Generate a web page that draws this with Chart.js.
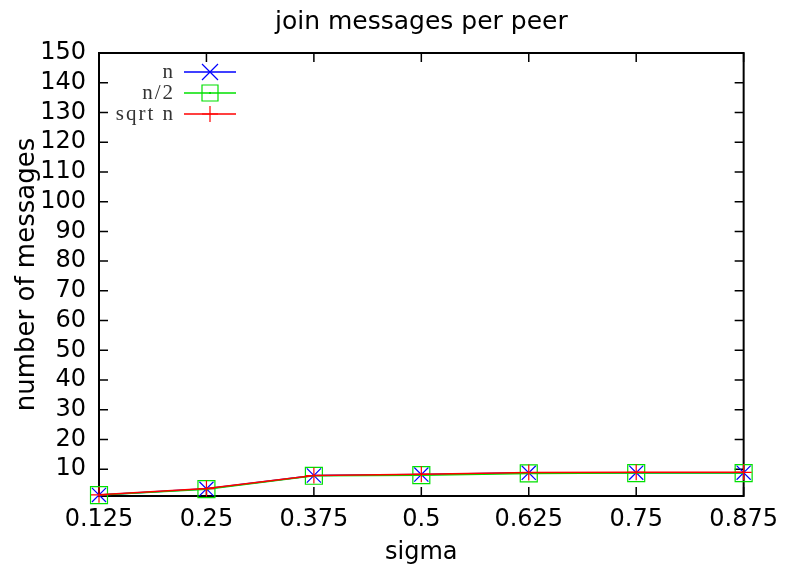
<!DOCTYPE html>
<html>
<head>
<meta charset="utf-8">
<script src="https://cdn.jsdelivr.net/npm/chart.js@4/dist/chart.umd.min.js"></script>
<style>
  html, body { margin: 0; padding: 0; background: #fff; }
  canvas { display: block; }
</style>
</head>
<body>
<canvas id="c" width="787" height="567"></canvas>
<script>
const sigma = [0.125, 0.25, 0.375, 0.5, 0.625, 0.75, 0.875];
const xTickLabels = ['0.125', '0.25', '0.375', '0.5', '0.625', '0.75', '0.875'];
const yTickValues = [10, 20, 30, 40, 50, 60, 70, 80, 90, 100, 110, 120, 130, 140, 150];
const seriesN = [1.35, 3.4, 7.9, 8.2, 8.8, 8.85, 8.85];
const seriesHalfN = [1.3, 3.3, 7.8, 8.0, 8.6, 8.7, 8.7];
const seriesSqrtN = [1.4, 3.5, 7.9, 8.3, 8.9, 8.95, 8.95];
const seriesNames = ['n', 'n/2', 'sqrt n'];
const chartTitle = 'join messages per peer';
const yAxisTitle = 'number of messages';
const xAxisTitle = 'sigma';

const pts = arr => sigma.map((s, i) => ({ x: s, y: arr[i] }));
const FONT = '"DejaVu Sans", "Liberation Sans", Arial, sans-serif';

const frameTicks = {
  id: 'frameTicks',
  beforeDatasetsDraw(chart) {
    const { ctx, chartArea: a, scales: { x, y } } = chart;
    ctx.save();
    ctx.strokeStyle = '#000';
    ctx.lineWidth = 1.5;
    ctx.beginPath();
    x.ticks.forEach(t => {
      const px = x.getPixelForValue(t.value);
      ctx.moveTo(px, a.bottom); ctx.lineTo(px, a.bottom - 9);
      ctx.moveTo(px, a.top); ctx.lineTo(px, a.top + 9);
    });
    y.ticks.forEach(t => {
      const py = y.getPixelForValue(t.value);
      ctx.moveTo(a.left, py); ctx.lineTo(a.left + 9, py);
      ctx.moveTo(a.right, py); ctx.lineTo(a.right - 9, py);
    });
    ctx.stroke();
    ctx.lineWidth = 2;
    ctx.strokeRect(a.left, a.top, a.right - a.left, a.bottom - a.top);
    ctx.restore();
  },
  afterDraw(chart) {
    const { ctx, chartArea: a } = chart;
    ctx.save();
    ctx.fillStyle = '#000';
    ctx.font = '25px ' + FONT;
    ctx.textAlign = 'center';
    ctx.textBaseline = 'middle';
    ctx.fillText(chartTitle, (a.left + a.right) / 2, 22);
    ctx.save();
    ctx.translate(27, (a.top + a.bottom) / 2);
    ctx.rotate(-Math.PI / 2);
    ctx.font = '26px ' + FONT;
    ctx.fillText(yAxisTitle, 0, 0);
    ctx.restore();
    const textRight = a.left + 76, lineStart = a.left + 85, lineEnd = a.left + 137, mark = a.left + 111;
    chart.data.datasets.forEach((ds, i) => {
      const yy = a.top + 19 + 21 * i;
      ctx.fillStyle = '#333';
      ctx.font = '21px "Liberation Serif", "Times New Roman", serif';
      ctx.letterSpacing = '2px';
      ctx.textAlign = 'right';
      ctx.fillText(ds.label, textRight, yy);
      ctx.letterSpacing = '0px';
      ctx.strokeStyle = ds.borderColor;
      ctx.lineWidth = 1.5;
      ctx.beginPath();
      ctx.moveTo(lineStart, yy); ctx.lineTo(lineEnd, yy);
      ctx.stroke();
      ctx.lineWidth = 1.2;
      ctx.beginPath();
      if (ds.pointStyle === 'crossRot') {
        const r = 8;
        ctx.moveTo(mark - r, yy - r); ctx.lineTo(mark + r, yy + r);
        ctx.moveTo(mark - r, yy + r); ctx.lineTo(mark + r, yy - r);
      } else if (ds.pointStyle === 'rect') {
        ctx.rect(mark - 8, yy - 8, 16, 16);
        ctx.fillStyle = ds.borderColor;
        ctx.fillRect(mark - 1, yy - 1, 2, 2);
      } else {
        ctx.moveTo(mark, yy - 8); ctx.lineTo(mark, yy + 8);
        ctx.moveTo(mark - 8, yy); ctx.lineTo(mark + 8, yy);
      }
      ctx.stroke();
    });
    ctx.restore();
  }
};

const mkSet = (label, arr, color, style, radius, order) => ({
  label, data: pts(arr), borderColor: color, backgroundColor: 'transparent',
  borderWidth: 1.5, pointStyle: style, pointRadius: radius, pointBorderWidth: 1.2,
  pointBorderColor: color, pointBackgroundColor: 'transparent', tension: 0,
  clip: false, order
});

new Chart(document.getElementById('c'), {
  type: 'line',
  data: {
    datasets: [
      mkSet(seriesNames[0], seriesN, '#0000ff', 'crossRot', 10, 3),
      mkSet(seriesNames[1], seriesHalfN, '#00e000', 'rect', 12, 2),
      mkSet(seriesNames[2], seriesSqrtN, '#ff0000', 'cross', 8, 1)
    ]
  },
  options: {
    responsive: false,
    animation: false,
    devicePixelRatio: 1,
    layout: { padding: { top: 53, right: 43, left: 0, bottom: 0 } },
    plugins: { legend: { display: false }, title: { display: false }, tooltip: { enabled: false } },
    scales: {
      x: {
        type: 'linear', min: 0.125, max: 0.875,
        afterBuildTicks: s => { s.ticks = sigma.map(v => ({ value: v })); },
        afterFit: s => { s.height = 71; },
        ticks: {
          autoSkip: false, maxRotation: 0, padding: 9, color: '#000',
          font: { family: FONT, size: 24 },
          callback: (v) => xTickLabels[sigma.indexOf(v)]
        },
        grid: { display: false, drawTicks: false },
        border: { display: false },
        title: { display: true, text: xAxisTitle, color: '#000', font: { family: FONT, size: 24 }, padding: { top: 0, bottom: 0 } }
      },
      y: {
        type: 'linear', min: 1, max: 150,
        afterBuildTicks: s => { s.ticks = yTickValues.map(v => ({ value: v })); },
        afterFit: s => { s.width = 99; },
        ticks: { autoSkip: false, padding: 13, color: '#000', font: { family: FONT, size: 24 } },
        grid: { display: false, drawTicks: false },
        border: { display: false },
        title: { display: false }
      }
    }
  },
  plugins: [frameTicks]
});
</script>
</body>
</html>
